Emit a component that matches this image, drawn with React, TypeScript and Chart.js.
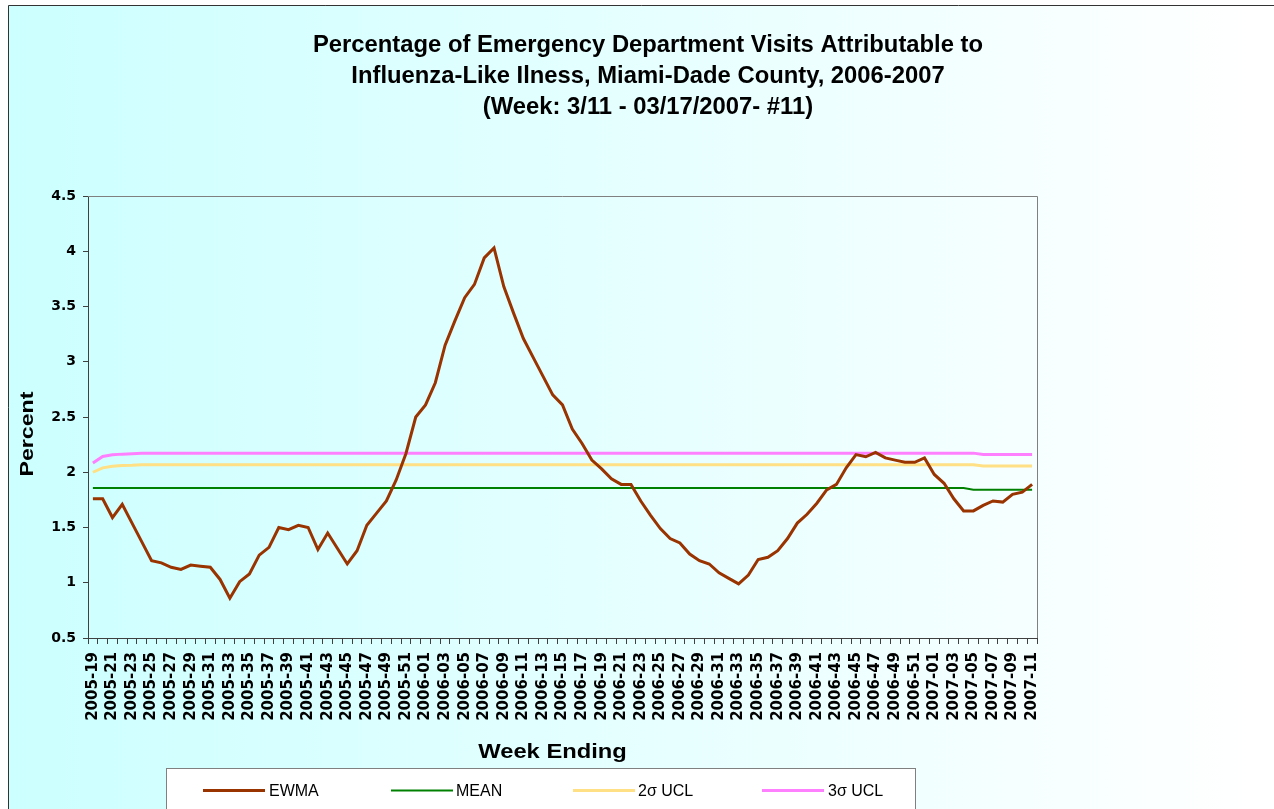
import React, { useEffect, useRef } from 'react';
import { Chart, registerables } from 'chart.js';

Chart.register(...registerables);

const weekLabels = [
  '2005-19', '2005-20', '2005-21', '2005-22', '2005-23', '2005-24', '2005-25', '2005-26', '2005-27', '2005-28',
  '2005-29', '2005-30', '2005-31', '2005-32', '2005-33', '2005-34', '2005-35', '2005-36', '2005-37', '2005-38',
  '2005-39', '2005-40', '2005-41', '2005-42', '2005-43', '2005-44', '2005-45', '2005-46', '2005-47', '2005-48',
  '2005-49', '2005-50', '2005-51', '2005-52',
  '2006-01', '2006-02', '2006-03', '2006-04', '2006-05', '2006-06', '2006-07', '2006-08', '2006-09', '2006-10',
  '2006-11', '2006-12', '2006-13', '2006-14', '2006-15', '2006-16', '2006-17', '2006-18', '2006-19', '2006-20',
  '2006-21', '2006-22', '2006-23', '2006-24', '2006-25', '2006-26', '2006-27', '2006-28', '2006-29', '2006-30',
  '2006-31', '2006-32', '2006-33', '2006-34', '2006-35', '2006-36', '2006-37', '2006-38', '2006-39', '2006-40',
  '2006-41', '2006-42', '2006-43', '2006-44', '2006-45', '2006-46', '2006-47', '2006-48', '2006-49', '2006-50',
  '2006-51', '2006-52',
  '2007-01', '2007-02', '2007-03', '2007-04', '2007-05', '2007-06', '2007-07', '2007-08', '2007-09', '2007-10',
  '2007-11',
];

const ewma = [
  1.76, 1.76, 1.59, 1.71, 1.54, 1.37, 1.20, 1.18, 1.14, 1.12,
  1.16, 1.15, 1.14, 1.03, 0.86, 1.01, 1.08, 1.25, 1.32, 1.50,
  1.48, 1.52, 1.50, 1.30, 1.45, 1.31, 1.17, 1.29, 1.52, 1.63,
  1.74, 1.93, 2.17, 2.50, 2.61, 2.81, 3.15, 3.37, 3.58, 3.70,
  3.94, 4.03, 3.68, 3.44, 3.21, 3.04, 2.87, 2.70, 2.61, 2.39,
  2.26, 2.11, 2.03, 1.94, 1.89, 1.89, 1.74, 1.61, 1.49, 1.40,
  1.36, 1.26, 1.20, 1.17, 1.09, 1.04, 0.99, 1.07, 1.21, 1.23,
  1.29, 1.40, 1.54, 1.62, 1.72, 1.84, 1.89, 2.04, 2.16, 2.14,
  2.18, 2.13, 2.11, 2.09, 2.09, 2.13, 1.98, 1.90, 1.76, 1.65,
  1.65, 1.70, 1.74, 1.73, 1.80, 1.82, 1.89,
];

const mean = [
  1.857, 1.857, 1.857, 1.857, 1.857, 1.857, 1.857, 1.857, 1.857, 1.857,
  1.857, 1.857, 1.857, 1.857, 1.857, 1.857, 1.857, 1.857, 1.857, 1.857,
  1.857, 1.857, 1.857, 1.857, 1.857, 1.857, 1.857, 1.857, 1.857, 1.857,
  1.857, 1.857, 1.857, 1.857, 1.857, 1.857, 1.857, 1.857, 1.857, 1.857,
  1.857, 1.857, 1.857, 1.857, 1.857, 1.857, 1.857, 1.857, 1.857, 1.857,
  1.857, 1.857, 1.857, 1.857, 1.857, 1.857, 1.857, 1.857, 1.857, 1.857,
  1.857, 1.857, 1.857, 1.857, 1.857, 1.857, 1.857, 1.857, 1.857, 1.857,
  1.857, 1.857, 1.857, 1.857, 1.857, 1.857, 1.857, 1.857, 1.857, 1.857,
  1.857, 1.857, 1.857, 1.857, 1.857, 1.857, 1.857, 1.857, 1.857, 1.857,
  1.842, 1.842, 1.842, 1.842, 1.842, 1.842, 1.842,
];

const ucl2 = [
  2.00, 2.04, 2.055, 2.062, 2.064, 2.068, 2.068, 2.068, 2.068, 2.068,
  2.068, 2.068, 2.068, 2.068, 2.068, 2.068, 2.068, 2.068, 2.068, 2.068,
  2.068, 2.068, 2.068, 2.068, 2.068, 2.068, 2.068, 2.068, 2.068, 2.068,
  2.068, 2.068, 2.068, 2.068, 2.068, 2.068, 2.068, 2.068, 2.068, 2.068,
  2.068, 2.068, 2.068, 2.068, 2.068, 2.068, 2.068, 2.068, 2.068, 2.068,
  2.068, 2.068, 2.068, 2.068, 2.068, 2.068, 2.068, 2.068, 2.068, 2.068,
  2.068, 2.068, 2.068, 2.068, 2.068, 2.068, 2.068, 2.068, 2.068, 2.068,
  2.068, 2.068, 2.068, 2.068, 2.068, 2.068, 2.068, 2.068, 2.068, 2.068,
  2.068, 2.068, 2.068, 2.068, 2.068, 2.068, 2.068, 2.068, 2.068, 2.068,
  2.068, 2.056, 2.056, 2.056, 2.056, 2.056, 2.056,
];

const ucl3 = [
  2.083, 2.143, 2.158, 2.164, 2.168, 2.173, 2.173, 2.173, 2.173, 2.173,
  2.173, 2.173, 2.173, 2.173, 2.173, 2.173, 2.173, 2.173, 2.173, 2.173,
  2.173, 2.173, 2.173, 2.173, 2.173, 2.173, 2.173, 2.173, 2.173, 2.173,
  2.173, 2.173, 2.173, 2.173, 2.173, 2.173, 2.173, 2.173, 2.173, 2.173,
  2.173, 2.173, 2.173, 2.173, 2.173, 2.173, 2.173, 2.173, 2.173, 2.173,
  2.173, 2.173, 2.173, 2.173, 2.173, 2.173, 2.173, 2.173, 2.173, 2.173,
  2.173, 2.173, 2.173, 2.173, 2.173, 2.173, 2.173, 2.173, 2.173, 2.173,
  2.173, 2.173, 2.173, 2.173, 2.173, 2.173, 2.173, 2.173, 2.173, 2.173,
  2.173, 2.173, 2.173, 2.173, 2.173, 2.173, 2.173, 2.173, 2.173, 2.173,
  2.173, 2.161, 2.161, 2.161, 2.161, 2.161, 2.161,
];

const seriesNames = ['EWMA', 'MEAN', '2σ UCL', '3σ UCL'];
const seriesColors = ['#993300', '#008000', '#FFE084', '#FF80FF'];
const seriesWidths = [3, 2, 3, 3];

const titleLines = [
  'Percentage of Emergency Department Visits Attributable to',
  'Influenza-Like Ilness, Miami-Dade County, 2006-2007',
  '(Week: 3/11 - 03/17/2007- #11)',
];
const yTitle = 'Percent';
const xTitle = 'Week Ending';

const yMin = 0.5;
const yMax = 4.5;
const yStep = 0.5;

const W = 1274;
const H = 809;

const decorPlugin = {
  id: 'decor',
  beforeDraw(chart: any) {
    const { ctx } = chart;
    ctx.save();
    ctx.fillStyle = '#ffffff';
    ctx.fillRect(0, 0, W, H);
    const g = ctx.createLinearGradient(8, 0, 1250, 0);
    g.addColorStop(0, '#ccffff');
    g.addColorStop(1, '#ffffff');
    ctx.fillStyle = g;
    ctx.fillRect(8, 5, W - 8, H - 5);
    ctx.strokeStyle = '#333333';
    ctx.lineWidth = 1;
    ctx.beginPath();
    ctx.moveTo(8.5, H + 2);
    ctx.lineTo(8.5, 5.5);
    ctx.lineTo(W + 2, 5.5);
    ctx.stroke();
    ctx.restore();
  },
  afterDraw(chart: any) {
    const { ctx, chartArea: ca } = chart;
    ctx.save();
    // plot area top and right border
    ctx.strokeStyle = '#808080';
    ctx.lineWidth = 1;
    ctx.beginPath();
    ctx.moveTo(ca.left, ca.top + 0.5);
    ctx.lineTo(ca.right + 0.5, ca.top + 0.5);
    ctx.lineTo(ca.right + 0.5, ca.bottom);
    ctx.stroke();

    // title
    ctx.fillStyle = '#000000';
    ctx.font = 'bold 23.8px "Liberation Sans", Arial, sans-serif';
    ctx.textAlign = 'center';
    ctx.textBaseline = 'alphabetic';
    const baselines = [52, 83, 114];
    titleLines.forEach((t, i) => ctx.fillText(t, 648, baselines[i]));

    // y axis title
    ctx.save();
    ctx.translate(26.7, 434);
    ctx.rotate(-Math.PI / 2);
    ctx.scale(1.25, 1);
    ctx.font = 'bold 18.5px "Liberation Sans", Arial, sans-serif';
    ctx.textAlign = 'center';
    ctx.textBaseline = 'alphabetic';
    ctx.fillText(yTitle, 0, 6.6);
    ctx.restore();

    // x axis title
    ctx.save();
    ctx.translate(552.5, 757.5);
    ctx.scale(1.13, 1);
    ctx.font = 'bold 21px "Liberation Sans", Arial, sans-serif';
    ctx.textAlign = 'center';
    ctx.textBaseline = 'alphabetic';
    ctx.fillText(xTitle, 0, 0);
    ctx.restore();

    // legend
    ctx.fillStyle = '#ffffff';
    ctx.fillRect(166.5, 768.5, 749, 60);
    ctx.strokeStyle = '#808080';
    ctx.lineWidth = 1;
    ctx.strokeRect(166.5, 768.5, 749, 60);
    const lineStarts = [203, 391, 573, 762];
    const textStarts = [269, 456, 638, 828];
    const ly = 790.5;
    ctx.font = '16px "Liberation Sans", Arial, sans-serif';
    ctx.textAlign = 'left';
    ctx.textBaseline = 'alphabetic';
    seriesNames.forEach((name, i) => {
      ctx.strokeStyle = seriesColors[i];
      ctx.lineWidth = seriesWidths[i];
      ctx.beginPath();
      ctx.moveTo(lineStarts[i], ly);
      ctx.lineTo(lineStarts[i] + 62, ly);
      ctx.stroke();
      ctx.fillStyle = '#000000';
      ctx.fillText(name, textStarts[i], 796);
    });
    ctx.restore();
  },
};

export default function App() {
  const canvasRef = useRef<HTMLCanvasElement | null>(null);

  useEffect(() => {
    if (!canvasRef.current) return;
    const datasets = [ewma, mean, ucl2, ucl3].map((d, i) => ({
      label: seriesNames[i],
      data: d,
      borderColor: seriesColors[i],
      backgroundColor: seriesColors[i],
      borderWidth: seriesWidths[i],
      pointRadius: 0,
      pointHoverRadius: 0,
      tension: 0,
      fill: false,
      borderJoinStyle: 'miter' as const,
    }));
    const chart = new Chart(canvasRef.current, {
      type: 'line',
      data: { labels: weekLabels, datasets },
      options: {
        responsive: false,
        animation: false,
        devicePixelRatio: 1,
        layout: { padding: { left: 0, top: 196, right: W - 1037, bottom: 0 } },
        plugins: {
          legend: { display: false },
          title: { display: false },
          tooltip: { enabled: false },
        },
        scales: {
          x: {
            type: 'category',
            offset: true,
            grid: {
              display: true,
              drawOnChartArea: false,
              drawTicks: true,
              tickLength: 6,
              color: '#404040',
              offset: true,
            },
            border: { display: true, color: '#404040', width: 1 },
            ticks: {
              autoSkip: false,
              maxRotation: 90,
              minRotation: 90,
              padding: 8,
              color: '#000000',
              font: { family: '"DejaVu Sans", sans-serif', weight: 'bold', size: 15 },
              callback: (_v: any, i: number) => (i % 2 === 0 ? weekLabels[i] : ''),
            },
            afterFit: (s: any) => {
              s.height = H - 638;
            },
          },
          y: {
            min: yMin,
            max: yMax,
            grid: {
              display: true,
              drawOnChartArea: false,
              drawTicks: true,
              tickLength: 5,
              color: '#404040',
            },
            border: { display: true, color: '#404040', width: 1 },
            ticks: {
              stepSize: yStep,
              padding: 7,
              color: '#000000',
              font: { family: '"DejaVu Sans", sans-serif', weight: 'bold', size: 14 },
              callback: (v: any) => String(Math.round(Number(v) * 10) / 10),
            },
            afterFit: (s: any) => {
              s.width = 88;
            },
          },
        },
      },
      plugins: [decorPlugin],
    });
    return () => chart.destroy();
  }, []);

  return (
    <div style={{ position: 'absolute', left: 0, top: 0, width: W, height: H }}>
      <canvas ref={canvasRef} width={W} height={H} style={{ display: 'block' }} />
    </div>
  );
}
